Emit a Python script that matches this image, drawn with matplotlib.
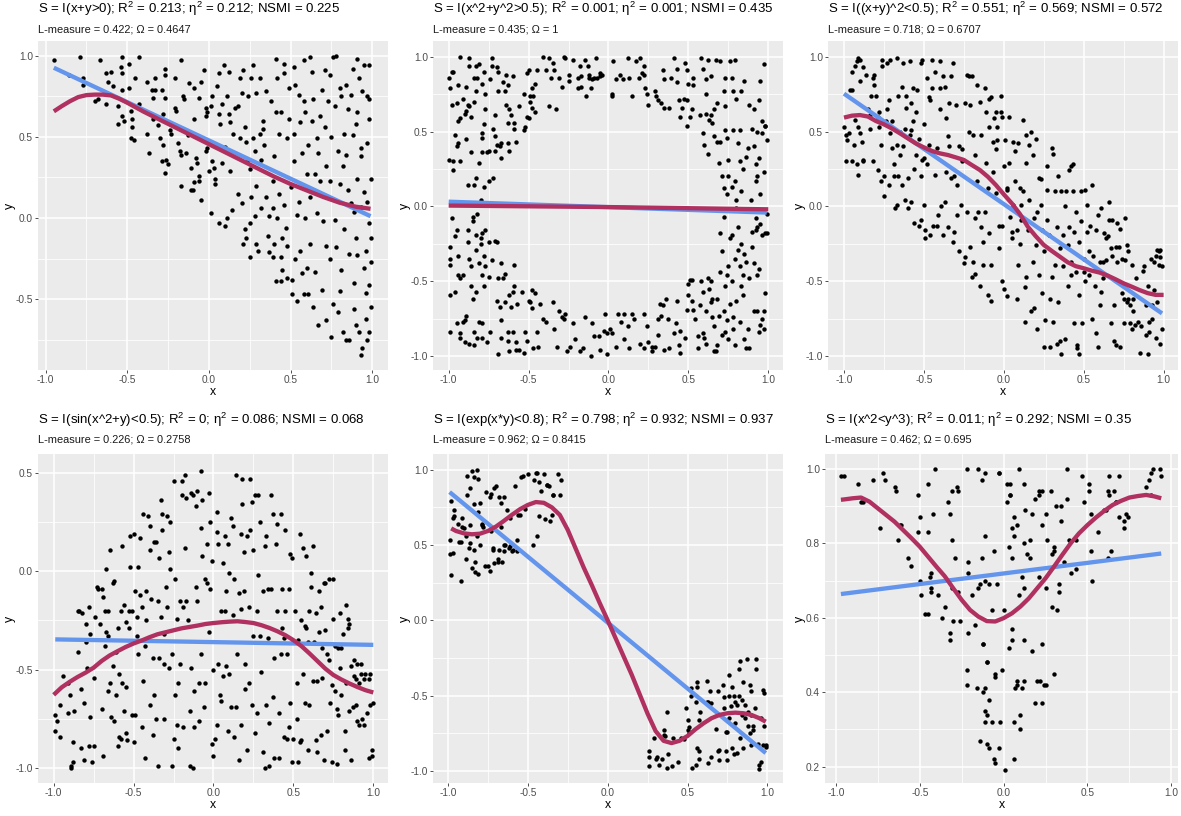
import numpy as np
import matplotlib
matplotlib.use("Agg")
import matplotlib.pyplot as plt

plt.rcParams['font.family'] = ['Liberation Sans', 'DejaVu Sans']
plt.rcParams['mathtext.fontset'] = 'custom'
plt.rcParams['mathtext.rm'] = 'Liberation Sans'
plt.rcParams['mathtext.it'] = 'Liberation Sans:italic'
plt.rcParams['axes.unicode_minus'] = False

# ---------------- data ----------------
titles = [
    "S = I(x+y>0); R$^2$ = 0.213; η$^2$ = 0.212; NSMI = 0.225",
    "S = I(x^2+y^2>0.5); R$^2$ = 0.001; η$^2$ = 0.001; NSMI = 0.435",
    "S = I((x+y)^2<0.5); R$^2$ = 0.551; η$^2$ = 0.569; NSMI = 0.572",
    "S = I(sin(x^2+y)<0.5); R$^2$ = 0; η$^2$ = 0.086; NSMI = 0.068",
    "S = I(exp(x*y)<0.8); R$^2$ = 0.798; η$^2$ = 0.932; NSMI = 0.937",
    "S = I(x^2<y^3); R$^2$ = 0.011; η$^2$ = 0.292; NSMI = 0.35",
]
subtitles = [
    "L-measure = 0.422; Ω = 0.4647",
    "L-measure = 0.435; Ω = 1",
    "L-measure = 0.718; Ω = 0.6707",
    "L-measure = 0.226; Ω = 0.2758",
    "L-measure = 0.962; Ω = 0.8415",
    "L-measure = 0.462; Ω = 0.695",
]

p1_points = [(-0.95,0.97),(-0.79,0.99),(-0.67,0.97),(-0.86,0.88),(-0.77,0.86),(-0.77,0.82),(-0.70,0.72),(-0.68,0.73),(-0.63,0.70),(-0.63,0.89),(-0.60,0.90),(-0.62,0.84),(-0.59,0.81),(-0.53,0.99),(-0.54,0.93),(-0.53,0.89),(-0.53,0.79),(-0.56,0.69),(-0.56,0.58),(-0.53,0.63),(-0.52,0.60),(-0.49,0.95),(-0.49,0.80),(-0.48,0.66),(-0.47,0.61),(-0.48,0.49),(-0.46,0.48),(-0.47,0.56),(-0.45,0.86),(-0.43,0.99),(-0.43,0.70),(-0.38,0.84),(-0.38,0.52),(-0.37,0.40),(-0.35,0.79),(-0.34,0.74),(-0.33,0.86),(-0.33,0.79),(-0.31,0.57),(-0.30,0.49),(-0.34,0.61),(-0.29,0.35),(-0.29,0.79),(-0.28,0.64),(-0.28,0.45),(-0.27,0.92),(-0.27,0.88),(-0.27,0.74),(-0.27,0.28),(-0.26,0.36),(-0.24,0.54),(-0.25,0.33),(-0.23,0.52),(-0.21,0.86),(-0.21,0.68),(-0.20,0.66),(-0.19,0.46),(-0.18,0.41),(-0.17,0.39),(-0.17,0.97),(-0.17,0.20),(-0.16,0.75),(-0.15,0.73),(-0.14,0.40),(-0.13,0.51),(-0.12,0.83),(-0.11,0.31),(-0.11,0.17),(-0.10,0.17),(-0.09,0.80),(-0.09,0.61),(-0.09,0.22),(-0.08,0.37),(-0.07,0.34),(-0.06,0.74),(-0.06,0.26),(-0.06,0.23),(-0.05,0.84),(-0.05,0.11),(-0.03,0.91),(-0.02,0.63),(-0.02,0.68),(-0.02,0.41),(-0.01,0.65),(-0.01,0.43),(0.00,0.29),(0.01,0.03),(0.01,0.69),(0.02,0.75),(0.02,0.35),(0.03,0.31),(0.04,0.21),(0.04,0.24),(0.05,0.81),(0.06,-0.03),(0.06,0.89),(0.06,0.64),(0.07,0.58),(0.08,0.34),(0.08,0.70),(0.09,0.94),(0.10,-0.05),(0.10,0.44),(0.11,0.75),(0.11,0.00),(0.12,0.90),(0.12,0.64),(0.13,0.59),(0.13,0.29),(0.14,0.05),(0.15,0.52),(0.16,0.68),(0.18,0.69),(0.18,0.15),(0.19,0.49),(0.19,0.86),(0.20,0.77),(0.20,0.09),(0.21,-0.16),(0.21,0.91),(0.22,0.56),(0.22,-0.07),(0.23,-0.12),(0.23,0.47),(0.24,0.36),(0.24,0.75),(0.25,0.30),(0.25,-0.24),(0.25,-0.03),(0.26,0.86),(0.26,0.13),(0.27,0.49),(0.27,0.94),(0.28,0.41),(0.28,0.01),(0.29,0.77),(0.29,0.20),(0.29,-0.16),(0.30,-0.20),(0.31,0.52),(0.31,0.86),(0.32,0.06),(0.32,0.36),(0.33,0.55),(0.33,0.60),(0.34,0.45),(0.35,0.13),(0.35,0.78),(0.36,-0.11),(0.37,0.01),(0.37,-0.21),(0.38,0.72),(0.39,-0.24),(0.39,0.23),(0.39,0.06),(0.40,0.38),(0.40,-0.16),(0.41,0.98),(0.41,0.65),(0.41,-0.39),(0.42,0.86),(0.42,0.00),(0.43,0.52),(0.43,0.15),(0.44,-0.24),(0.44,0.65),(0.44,-0.39),(0.45,-0.32),(0.45,-0.12),(0.46,0.95),(0.46,0.89),(0.46,0.08),(0.47,-0.06),(0.48,-0.37),(0.48,-0.17),(0.48,0.49),(0.49,0.80),(0.49,0.61),(0.50,0.19),(0.51,-0.38),(0.51,-0.47),(0.52,0.35),(0.52,0.93),(0.52,0.52),(0.53,0.82),(0.53,-0.25),(0.54,-0.51),(0.54,0.02),(0.55,0.76),(0.55,0.10),(0.56,-0.20),(0.56,0.59),(0.57,0.40),(0.57,-0.34),(0.58,0.97),(0.58,0.72),(0.58,-0.47),(0.59,0.00),(0.59,0.65),(0.60,0.27),(0.60,-0.31),(0.61,0.45),(0.61,-0.47),(0.62,0.99),(0.62,-0.16),(0.62,0.13),(0.63,0.60),(0.63,0.90),(0.64,0.73),(0.64,-0.55),(0.65,-0.33),(0.65,0.27),(0.66,0.49),(0.66,0.03),(0.67,0.40),(0.67,-0.66),(0.68,0.23),(0.68,0.63),(0.69,-0.44),(0.69,0.79),(0.70,-0.02),(0.71,0.56),(0.71,0.91),(0.72,-0.17),(0.72,0.32),(0.72,-0.63),(0.73,0.72),(0.74,0.23),(0.74,0.88),(0.74,-0.25),(0.75,0.50),(0.75,-0.73),(0.76,0.99),(0.76,-0.53),(0.77,-0.01),(0.77,0.69),(0.78,1.00),(0.78,-0.18),(0.79,0.41),(0.79,-0.58),(0.80,0.80),(0.80,0.21),(0.80,-0.45),(0.81,-0.32),(0.81,0.75),(0.82,0.32),(0.82,-0.70),(0.83,0.52),(0.83,-0.07),(0.84,-0.75),(0.84,0.39),(0.84,0.82),(0.85,0.17),(0.85,0.67),(0.86,-0.22),(0.86,-0.75),(0.87,0.76),(0.87,0.09),(0.88,0.51),(0.88,0.92),(0.89,-0.40),(0.89,-0.56),(0.89,0.04),(0.90,0.58),(0.90,-0.12),(0.90,-0.66),(0.91,0.98),(0.91,0.24),(0.91,0.65),(0.91,-0.23),(0.92,-0.70),(0.92,0.86),(0.93,0.38),(0.93,-0.84),(0.93,0.43),(0.93,0.07),(0.94,0.78),(0.94,-0.80),(0.95,0.94),(0.95,-0.31),(0.95,0.16),(0.96,-0.62),(0.96,-0.46),(0.96,-0.20),(0.97,0.10),(0.97,0.75),(0.97,-0.75),(0.97,0.46),(0.98,-0.03),(0.98,-0.41),(0.98,-0.70),(0.98,0.61),(0.98,0.94),(0.99,0.24),(0.99,-0.12),(0.99,-0.27),(0.99,-0.55),(0.98,0.73)]

p2_points = [(-1.00,0.86),(-0.98,0.90),(-0.97,0.90),(-0.99,0.79),(-0.98,0.68),(-0.95,0.69),(-0.93,1.00),(-0.94,0.81),(-0.94,0.57),(-0.93,0.59),(-0.96,0.48),(-0.95,0.40),(-0.94,0.42),(-0.97,0.30),(-1.00,0.31),(-0.93,0.30),(-0.97,0.24),(-0.91,0.72),(-0.90,0.62),(-0.89,0.64),(-0.89,0.80),(-0.88,0.68),(-0.89,0.45),(-0.88,0.14),(-0.87,0.99),(-0.87,0.94),(-0.87,0.67),(-0.86,0.60),(-0.86,0.36),(-0.84,0.14),(-0.84,0.86),(-0.84,0.70),(-0.83,0.77),(-0.83,0.94),(-0.83,0.19),(-0.82,0.86),(-0.81,0.95),(-0.81,0.29),(-0.79,0.36),(-0.79,0.82),(-0.79,0.49),(-0.79,0.46),(-0.78,0.55),(-0.78,0.13),(-0.78,0.90),(-0.77,0.75),(-0.77,0.65),(-0.76,0.36),(-0.75,0.17),(-0.75,0.37),(-0.74,0.85),(-0.73,0.99),(-0.73,0.94),(-0.72,0.19),(-0.72,0.52),(-0.71,0.47),(-0.71,0.37),(-0.71,0.61),(-0.70,0.41),(-0.70,0.93),(-0.69,0.77),(-0.69,0.90),(-0.68,0.40),(-0.67,0.42),(-0.67,0.32),(-0.66,0.83),(-0.65,0.77),(-0.64,0.68),(-0.64,0.88),(-0.63,0.81),(-0.63,0.56),(-0.63,0.42),(-0.62,0.37),(-0.62,0.65),(-0.61,0.61),(-0.60,0.87),(-0.59,0.56),(-0.59,0.52),(-0.58,0.43),(-0.56,0.67),(-0.53,0.75),(-0.53,0.51),(-0.52,0.53),(-0.51,0.60),(-0.51,0.89),(-0.50,0.91),(-0.50,0.59),(-0.49,0.70),(-0.49,0.74),(-0.48,0.79),(-0.48,0.66),(-0.47,0.74),(-0.46,0.82),(-0.46,0.63),(-0.45,0.91),
 (-0.41,1.00),(-0.37,0.99),(-0.39,0.91),(-0.37,0.67),(-0.36,0.86),(-0.35,0.96),(-0.34,0.91),(-0.33,0.65),(-0.31,0.86),(-0.29,0.80),(-0.28,1.00),(-0.27,0.99),(-0.25,0.88),(-0.25,0.84),(-0.22,0.98),(-0.19,0.79),(-0.19,0.86),(-0.18,0.94),(-0.17,0.87),(-0.17,0.80),(-0.15,0.98),(-0.14,0.74),(-0.13,0.94),(-0.12,0.88),(-0.12,0.86),(-0.11,0.79),(-0.10,0.85),(-0.09,0.86),(-0.08,0.99),(-0.07,0.86),(-0.05,0.89),(-0.05,0.87),(-0.04,0.88),(0.02,0.75),(0.02,0.74),(0.03,0.97),(0.05,0.85),(0.07,0.88),(0.09,0.85),(0.12,0.99),(0.13,0.86),(0.15,0.74),(0.17,0.97),(0.19,0.86),(0.20,0.99),(0.21,0.89),(0.22,0.94),(0.22,0.88),(0.23,0.79),(0.24,0.75),(0.25,0.68),(0.29,0.77),(0.30,0.74),(0.31,0.71),(0.33,0.69),(0.34,0.91),(0.35,0.85),(0.35,0.66),(0.38,0.66),(0.39,0.86),(0.41,0.99),(0.43,0.92),(0.43,0.83),(0.44,0.71),(0.45,0.60),(0.46,0.66),(0.47,0.72),(0.48,0.96),(0.49,0.91),(0.49,0.71),(0.49,0.54),(0.50,0.82),(0.51,0.60),(0.52,0.65),(0.53,0.81),(0.53,0.86),
 (0.57,0.61),(0.58,0.99),(0.59,0.49),(0.59,0.92),(0.60,0.41),(0.61,0.75),(0.61,0.85),(0.61,0.62),(0.62,0.35),(0.62,0.98),(0.63,0.58),(0.64,0.87),(0.64,0.61),(0.65,0.56),(0.66,0.47),(0.66,0.65),(0.67,0.98),(0.68,0.43),(0.68,0.69),(0.69,0.29),(0.70,0.43),(0.70,0.97),(0.71,0.20),(0.72,0.77),(0.72,0.12),(0.73,0.86),(0.73,0.51),(0.73,0.67),(0.74,0.46),(0.74,0.08),(0.75,0.31),(0.75,0.20),(0.76,0.97),(0.77,0.13),(0.77,0.86),(0.78,0.51),(0.78,0.77),(0.79,0.17),(0.79,0.98),(0.80,0.04),(0.80,0.72),(0.81,0.42),(0.82,0.51),(0.82,0.30),(0.83,0.10),(0.83,0.77),(0.84,0.25),(0.85,0.84),(0.86,0.33),(0.87,0.39),(0.88,0.68),(0.89,0.04),(0.90,0.52),(0.91,0.65),(0.91,0.40),(0.92,0.17),(0.92,0.28),(0.93,0.50),(0.93,0.20),(0.94,0.71),(0.94,0.32),(0.95,0.84),(0.95,0.08),(0.96,0.57),(0.96,0.49),(0.97,0.95),(0.97,0.23),(0.98,0.54),(0.98,0.54),(0.99,0.44),
 (-0.99,-0.27),(-0.99,-0.35),(-0.99,-0.39),(-0.99,-0.59),(-0.99,-0.84),(-0.98,-0.08),(-0.96,-0.57),(-0.96,-0.20),(-0.95,-0.16),(-0.95,-0.78),(-0.94,-0.46),(-0.94,-0.33),(-0.93,-0.48),(-0.93,-0.88),(-0.93,-0.85),(-0.91,-0.77),(-0.91,-0.46),(-0.90,-0.76),(-0.90,-0.91),(-0.89,-0.73),(-0.88,-0.16),(-0.88,-0.24),(-0.87,-0.35),(-0.87,-0.92),(-0.86,-0.53),(-0.86,-0.40),(-0.85,-0.10),(-0.85,-0.62),(-0.85,-0.07),(-0.84,-0.84),(-0.84,-0.93),(-0.83,-0.29),(-0.83,-0.57),(-0.83,-0.19),(-0.82,-0.88),(-0.82,-0.05),(-0.81,-0.77),(-0.81,-0.38),(-0.80,-0.21),(-0.80,-0.25),(-0.80,0.04),(-0.79,-0.18),(-0.79,-0.78),(-0.79,-0.46),(-0.79,-0.88),(-0.78,-0.33),(-0.78,-0.53),(-0.77,-0.16),(-0.77,-0.40),(-0.76,-0.91),(-0.75,-0.47),(-0.75,-0.24),(-0.74,-0.84),(-0.73,-0.36),(-0.71,-0.23),(-0.70,-0.24),(-0.70,-0.63),(-0.69,-0.48),(-0.69,-0.99),(-0.68,-0.67),(-0.67,-0.76),(-0.67,-0.38),(-0.67,-0.88),(-0.66,-0.48),(-0.65,-0.45),(-0.65,-0.64),(-0.63,-0.84),(-0.63,-0.90),(-0.62,-0.97),(-0.62,-0.59),(-0.61,-0.67),(-0.60,-0.84),(-0.60,-0.57),(-0.59,-0.39),(-0.59,-0.53),(-0.58,-0.91),(-0.58,-0.96),(-0.57,-0.65),(-0.56,-0.96),(-0.54,-0.57),(-0.53,-0.98),(-0.52,-0.84),(-0.51,-0.90),(-0.50,-0.63),(-0.49,-0.64),(-0.48,-0.56),(-0.48,-0.68),(-0.47,-0.95),(-0.46,-0.58),(-0.45,-0.84),(-0.44,-0.94),(-0.43,-0.65),(-0.41,-0.75),
 (-0.39,-0.77),(-0.35,-0.64),(-0.34,-0.82),(-0.32,-0.94),(-0.31,-0.70),(-0.29,-0.74),(-0.28,-0.75),(-0.27,-0.72),(-0.26,-0.97),(-0.24,-0.94),(-0.22,-0.78),(-0.21,-0.89),(-0.18,-0.97),(-0.16,-0.95),(-0.15,-0.74),(-0.11,-1.00),(-0.10,-0.78),(-0.09,-0.87),(-0.06,-0.87),(-0.05,-0.96),(-0.03,-0.83),(-0.02,-0.72),(-0.01,-0.99),(-0.01,-0.85),(0.01,-0.82),(0.02,-0.85),(0.05,-0.94),(0.06,-0.72),(0.08,-0.77),(0.10,-0.72),(0.10,-0.89),(0.12,-0.80),(0.13,-0.95),(0.15,-0.72),(0.16,-0.75),(0.20,-0.92),(0.22,-0.95),(0.22,-0.72),(0.24,-0.80),(0.25,-0.91),(0.27,-0.94),(0.27,-0.97),(0.29,-0.94),(0.31,-0.75),(0.31,-0.86),(0.32,-0.65),(0.33,-0.73),(0.34,-0.66),(0.35,-0.96),(0.36,-0.62),(0.37,-0.75),(0.38,-0.95),(0.41,-0.85),(0.42,-0.78),(0.43,-0.63),(0.44,-0.93),(0.45,-0.98),(0.45,-0.83),(0.48,-0.88),(0.49,-0.69),(0.50,-0.52),(0.50,-0.59),(0.51,-0.49),(0.52,-0.63),(0.52,-0.49),(0.53,-0.69),(0.54,-0.75),
 (0.56,-0.87),(0.56,-0.95),(0.57,-0.66),(0.58,-0.50),(0.59,-0.57),(0.59,-0.85),(0.60,-0.88),(0.61,-0.70),(0.61,-0.92),(0.62,-0.48),(0.63,-0.55),(0.64,-0.50),(0.64,-0.64),(0.65,-0.74),(0.65,-0.62),(0.66,-0.97),(0.66,-0.80),(0.67,-0.97),(0.68,-0.62),(0.68,-0.93),(0.69,-0.73),(0.70,-0.18),(0.70,-0.44),(0.71,-0.86),(0.71,-0.30),(0.72,-0.70),(0.72,-0.07),(0.73,-0.84),(0.73,-0.53),(0.74,-0.46),(0.74,-0.76),(0.75,-0.40),(0.75,-0.89),(0.76,-0.21),(0.76,-0.65),(0.77,-0.50),(0.77,-0.19),(0.78,-0.74),(0.78,-0.82),(0.79,-0.93),(0.79,-0.35),(0.80,-0.63),(0.80,-0.01),(0.81,-0.14),(0.81,-0.29),(0.82,-0.40),(0.82,-0.77),(0.83,-0.25),(0.83,-0.53),(0.84,-0.46),(0.84,-0.59),(0.85,-0.32),(0.85,-0.89),(0.86,-0.95),(0.86,-0.37),(0.87,-0.82),(0.88,-0.48),(0.88,-0.95),(0.90,-0.17),(0.90,-0.27),(0.91,-0.70),(0.91,-0.38),(0.92,-0.08),(0.92,-0.16),(0.93,-0.70),(0.93,-0.46),(0.93,-0.14),(0.94,-0.84),(0.94,-0.42),(0.95,-0.12),(0.95,-0.79),(0.96,-0.75),(0.96,-0.19),(0.97,-0.70),(0.97,-0.82),(0.98,-0.58),(0.98,-0.18),(0.99,-0.18),(0.99,-0.05)]

p3_points = [(-1.00,0.53),(-0.99,0.48),(-0.97,0.49),(-0.98,0.44),(-0.99,0.30),(-0.96,0.78),(-0.95,0.78),(-0.95,0.90),(-0.94,0.41),(-0.95,0.30),(-0.93,0.94),(-0.92,0.97),(-0.91,0.99),(-0.90,0.98),(-0.93,0.58),(-0.92,0.28),(-0.91,0.53),(-0.91,0.21),(-0.90,0.84),(-0.90,0.49),(-0.89,0.43),(-0.88,0.31),(-0.88,0.93),(-0.88,0.30),(-0.86,0.88),(-0.85,0.65),(-0.84,0.52),(-0.84,0.61),(-0.83,0.74),(-0.82,0.86),(-0.82,0.30),(-0.81,0.81),(-0.81,0.88),(-0.80,0.74),(-0.79,0.24),(-0.79,0.60),(-0.78,0.63),(-0.78,0.53),(-0.77,0.41),(-0.77,0.17),(-0.76,0.98),(-0.76,0.94),(-0.75,0.07),(-0.75,0.20),(-0.74,0.57),(-0.73,0.65),(-0.73,0.96),(-0.72,0.71),(-0.72,0.14),(-0.71,0.98),(-0.71,0.49),(-0.70,0.39),(-0.70,0.57),(-0.69,0.28),(-0.69,0.20),(-0.68,-0.01),(-0.67,0.01),(-0.67,0.99),(-0.67,0.41),(-0.66,0.74),(-0.66,0.20),(-0.65,0.50),(-0.65,0.34),(-0.64,0.14),(-0.64,0.80),(-0.63,0.96),(-0.63,0.40),(-0.62,0.52),(-0.62,0.04),(-0.61,0.66),(-0.61,0.74),(-0.60,0.19),(-0.60,-0.01),(-0.59,0.97),(-0.59,0.48),(-0.58,0.03),(-0.58,0.69),(-0.58,0.51),(-0.57,0.57),(-0.57,0.79),(-0.56,-0.11),(-0.56,0.25),(-0.55,0.34),(-0.55,0.63),(-0.54,0.78),(-0.53,0.45),(-0.53,-0.13),(-0.52,0.20),(-0.52,-0.09),(-0.52,0.96),(-0.51,0.31),(-0.51,0.98),(-0.50,0.32),(-0.50,0.55),(-0.50,0.01),(-0.49,-0.21),(-0.49,-0.16),(-0.48,0.28),(-0.48,0.86),(-0.47,0.41),(-0.47,0.73),(-0.46,-0.19),(-0.46,0.71),(-0.45,0.79),(-0.45,0.98),(-0.44,-0.13),(-0.43,0.21),(-0.43,0.90),(-0.42,-0.13),(-0.42,0.39),(-0.41,-0.06),(-0.40,0.79),(-0.40,0.65),(-0.40,0.97),(-0.39,0.00),(-0.38,0.87),(-0.38,-0.19),(-0.37,0.80),(-0.37,0.03),(-0.36,0.23),(-0.36,0.59),(-0.35,0.47),(-0.35,-0.14),(-0.34,0.40),(-0.34,0.69),(-0.33,0.87),(-0.33,0.19),(-0.32,0.96),(-0.32,-0.24),(-0.31,-0.17),(-0.31,0.20),(-0.30,0.68),(-0.29,-0.06),(-0.29,0.14),(-0.28,0.40),(-0.28,-0.30),(-0.27,0.01),(-0.26,0.30),(-0.26,0.38),(-0.25,-0.38),(-0.24,0.69),(-0.24,-0.34),(-0.23,-0.04),(-0.22,0.87),(-0.22,0.50),(-0.21,0.68),(-0.21,-0.27),(-0.20,-0.47),(-0.19,-0.37),(-0.19,0.48),(-0.18,-0.08),(-0.18,-0.45),(-0.18,0.34),(-0.17,0.17),(-0.17,0.81),(-0.16,-0.04),(-0.15,0.70),(-0.15,-0.53),(-0.14,-0.14),(-0.14,0.48),(-0.13,-0.39),(-0.13,-0.24),(-0.12,0.79),(-0.12,-0.04),(-0.11,0.29),(-0.11,0.63),(-0.10,0.12),(-0.10,-0.59),(-0.09,0.53),(-0.09,-0.18),(-0.08,-0.63),(-0.08,-0.39),(-0.08,0.73),(-0.07,0.43),(-0.07,0.23),(-0.06,0.59),(-0.05,0.38),(-0.05,0.09),(-0.04,0.53),(-0.04,0.44),(-0.03,-0.13),(-0.03,-0.28),(-0.02,0.63),(-0.02,0.74),(-0.01,-0.13),(-0.01,-0.50),(0.00,-0.55),(0.00,0.27),(0.01,0.44),(0.02,0.11),(0.02,-0.60),(0.02,0.12),(0.03,0.29),(0.03,0.60),(0.04,-0.07),(0.05,-0.21),(0.05,-0.17),(0.06,0.01),(0.06,0.43),(0.07,0.17),(0.07,0.37),(0.08,-0.16),(0.08,-0.62),(0.09,-0.39),(0.09,0.42),(0.10,0.12),(0.10,-0.25),(0.11,-0.09),(0.11,0.01),(0.12,0.58),(0.12,0.10),(0.13,-0.77),(0.13,-0.54),(0.14,0.29),(0.14,0.48),(0.14,-0.47),(0.15,-0.16),(0.16,0.04),(0.16,0.41),(0.17,0.50),(0.17,-0.70),(0.18,-0.37),(0.18,0.34),(0.19,-0.08),(0.19,-0.68),(0.20,-0.26),(0.20,0.45),(0.21,-0.82),(0.21,-0.04),(0.22,0.19),(0.22,-0.46),(0.23,0.18),(0.23,0.01),(0.24,-0.16),(0.24,-0.58),(0.25,-0.30),(0.25,-0.94),(0.26,-0.76),(0.27,0.11),(0.27,-0.09),(0.27,0.27),(0.28,-0.19),(0.29,-0.62),(0.29,-0.94),(0.30,-0.47),(0.30,0.39),(0.31,0.35),(0.31,-0.77),(0.32,0.10),(0.32,-0.39),(0.33,-0.92),(0.33,-0.14),(0.34,-0.64),(0.34,0.20),(0.35,-0.90),(0.35,-0.28),(0.36,0.10),(0.36,-0.99),(0.37,-0.19),(0.37,-0.40),(0.38,-0.89),(0.38,0.00),(0.39,0.10),(0.40,-0.26),(0.40,-0.53),(0.41,-0.14),(0.41,0.24),(0.42,-0.46),(0.42,-0.37),(0.43,0.10),(0.43,0.28),(0.44,-0.78),(0.44,-0.17),(0.45,-0.04),(0.45,-0.44),(0.46,-0.93),(0.46,-0.95),(0.47,-0.24),(0.47,-0.99),(0.47,-0.59),(0.48,0.10),(0.48,-0.10),(0.49,-0.78),(0.50,-0.44),(0.50,-0.35),(0.51,-0.50),(0.51,0.11),(0.52,0.01),(0.52,-0.17),(0.53,-0.46),(0.53,-0.30),(0.54,-0.13),(0.55,0.14),(0.55,-0.75),(0.56,-0.33),(0.57,-0.53),(0.58,-0.85),(0.58,-0.16),(0.59,-0.06),(0.59,-0.94),(0.60,-0.37),(0.60,-0.66),(0.61,-0.01),(0.61,-0.57),(0.62,-0.37),(0.62,-0.48),(0.63,-0.18),(0.64,-0.21),(0.64,-0.36),(0.65,-0.20),(0.66,0.03),(0.66,-0.09),(0.67,-0.78),(0.67,-0.28),(0.68,-0.09),(0.68,-0.33),(0.69,-0.90),(0.69,-0.66),(0.70,-0.27),(0.70,-0.93),(0.71,-0.37),(0.71,-0.11),(0.72,-0.27),(0.73,-0.94),(0.73,-0.15),(0.74,-0.58),(0.74,-0.35),(0.75,-0.78),(0.75,-0.62),(0.76,-0.36),(0.76,-0.08),(0.77,-0.26),(0.77,-0.64),(0.78,-0.62),(0.78,-0.30),(0.79,-0.66),(0.79,-0.78),(0.80,-0.39),(0.80,-0.82),(0.81,-0.70),(0.81,-0.62),(0.82,-0.79),(0.83,-0.48),(0.84,-0.77),(0.85,-0.98),(0.86,-0.80),(0.87,-0.43),(0.88,-0.40),(0.89,-0.86),(0.89,-0.66),(0.90,-0.53),(0.90,-0.99),(0.91,-0.77),(0.91,-0.84),(0.92,-0.35),(0.93,-0.75),(0.93,-0.66),(0.94,-0.56),(0.94,-0.37),(0.95,-0.33),(0.95,-0.88),(0.96,-0.29),(0.96,-0.64),(0.97,-0.39),(0.97,-0.30),(0.98,-0.92),(0.98,-0.34),(0.98,-0.29),(0.99,-0.82),(0.99,-0.40),(-0.23,0.88),(-0.20,0.87),(-0.09,0.72),(-0.05,0.63),(-0.01,0.60),(0.42,0.27)]

p4_points = [(-0.99,-0.81),(-0.99,-0.73),(-0.98,-0.76),(-0.96,-0.84),(-0.96,-0.68),(-0.94,-0.53),(-0.91,-0.57),(-0.91,-0.72),(-0.90,-0.63),(-0.89,-0.99),(-0.89,-1.00),(-0.88,-0.97),(-0.88,-0.87),(-0.87,-0.71),(-0.85,-0.20),(-0.85,-0.41),(-0.84,-0.20),(-0.83,-0.60),(-0.83,-0.90),(-0.82,-0.21),(-0.81,-0.67),(-0.81,-0.96),(-0.80,-0.27),(-0.80,-0.36),(-0.79,-0.49),(-0.78,-0.89),(-0.78,-0.18),(-0.77,-0.74),(-0.77,-0.32),(-0.76,-0.97),(-0.75,-0.89),(-0.75,-0.54),(-0.74,-0.23),(-0.73,-0.08),(-0.72,-0.09),(-0.71,-0.27),(-0.70,-0.09),(-0.70,-0.70),(-0.69,-0.94),(-0.69,-0.13),(-0.68,-0.20),(-0.68,-0.38),(-0.67,0.01),(-0.67,-0.31),(-0.66,-0.20),(-0.66,-0.61),(-0.66,-0.33),(-0.65,-0.57),(-0.65,0.11),(-0.64,-0.74),(-0.63,-0.48),(-0.63,-0.06),(-0.62,-0.76),(-0.62,-0.05),(-0.61,-0.41),(-0.61,-0.63),(-0.60,-0.29),(-0.60,-0.89),(-0.59,-0.52),(-0.59,-0.84),(-0.58,-0.20),(-0.58,-0.85),(-0.57,0.13),(-0.57,-0.57),(-0.56,-0.71),(-0.56,-0.17),(-0.55,-0.82),(-0.55,-0.26),(-0.55,-0.59),(-0.54,-0.86),(-0.53,-0.29),(-0.53,-0.20),(-0.52,0.02),(-0.52,0.18),(-0.51,-0.73),(-0.51,-0.20),(-0.50,0.19),(-0.50,-0.87),(-0.49,-0.73),(-0.49,-0.10),(-0.48,-0.23),(-0.48,-0.33),(-0.47,0.02),(-0.47,-0.42),(-0.46,0.17),(-0.46,-0.12),(-0.45,-0.79),(-0.45,-0.18),(-0.44,0.29),(-0.44,-0.56),(-0.43,-0.38),(-0.43,-0.95),(-0.42,-0.10),(-0.42,-0.25),(-0.41,0.28),(-0.40,-0.68),(-0.40,0.11),(-0.40,0.23),(-0.39,-0.14),(-0.38,-0.44),(-0.38,-0.83),(-0.37,0.15),(-0.37,-0.63),(-0.36,-0.75),(-0.36,0.15),(-0.35,-0.15),(-0.35,-0.99),(-0.34,0.07),(-0.34,-0.44),(-0.33,0.36),(-0.33,-0.23),(-0.32,0.21),(-0.32,0.29),(-0.31,-0.32),(-0.31,-0.75),(-0.31,-0.47),(-0.30,-0.08),(-0.29,0.28),(-0.29,-0.18),(-0.28,0.10),(-0.28,-0.49),(-0.27,0.25),(-0.27,0.01),(-0.26,-0.42),(-0.26,-0.99),(-0.25,0.46),(-0.25,-0.85),(-0.24,-0.04),(-0.24,-0.63),(-0.23,-0.24),(-0.23,-0.78),(-0.22,-0.57),(-0.22,-0.90),(-0.21,-0.15),(-0.21,-0.47),(-0.20,0.39),(-0.20,0.46),(-0.19,-0.18),(-0.19,-0.79),(-0.18,0.49),(-0.18,0.12),(-0.17,-0.15),(-0.17,0.37),(-0.16,-0.25),(-0.15,-0.71),(-0.15,-0.99),(-0.14,0.40),(-0.14,-0.49),(-0.13,-1.00),(-0.13,0.39),(-0.12,-0.61),(-0.12,-0.79),(-0.11,0.33),(-0.11,-0.08),(-0.10,-0.15),(-0.10,0.41),(-0.09,-0.76),(-0.09,-0.57),(-0.08,0.22),(-0.08,0.51),(-0.08,-0.42),(-0.07,0.36),(-0.07,0.08),(-0.06,-0.69),(-0.05,-0.04),(-0.05,-0.57),(-0.04,0.14),(-0.04,-0.06),(-0.03,0.40),(-0.03,-0.31),(-0.02,-0.09),(-0.02,0.25),(-0.01,0.05),(-0.01,-0.88),(0.00,-0.94),(0.00,-0.50),(0.01,-0.85),(0.02,0.20),(0.02,0.30),(0.02,-0.78),(0.03,-0.47),(0.03,0.14),(0.04,-0.63),(0.05,-0.20),(0.05,-0.66),(0.06,0.04),(0.06,-0.53),(0.07,-0.20),(0.07,0.18),(0.08,-0.48),(0.08,-0.10),(0.09,-0.81),(0.09,0.14),(0.10,-0.01),(0.10,-0.52),(0.11,0.27),(0.11,-0.69),(0.12,0.23),(0.12,-0.22),(0.13,-0.84),(0.13,-0.04),(0.14,-0.69),(0.14,0.49),(0.15,-0.42),(0.16,-0.11),(0.16,-0.96),(0.17,-0.19),(0.17,0.19),(0.17,-0.78),(0.18,0.47),(0.18,0.34),(0.19,0.10),(0.19,-0.10),(0.20,-0.60),(0.20,-0.47),(0.21,0.18),(0.21,-0.91),(0.22,-0.57),(0.22,-0.18),(0.23,0.21),(0.23,0.47),(0.24,0.35),(0.24,-0.68),(0.25,-0.33),(0.25,0.11),(0.26,0.39),(0.26,-0.82),(0.27,-0.72),(0.27,-0.20),(0.28,-0.02),(0.28,0.39),(0.29,0.25),(0.29,-0.33),(0.30,-0.51),(0.31,-0.10),(0.31,-0.92),(0.32,-1.00),(0.32,0.13),(0.33,-0.68),(0.33,0.18),(0.34,-0.34),(0.34,-0.09),(0.35,-0.99),(0.35,-0.77),(0.36,0.39),(0.36,-0.09),(0.37,-0.64),(0.37,0.29),(0.38,-0.95),(0.38,-0.44),(0.39,0.14),(0.40,-0.20),(0.40,0.24),(0.41,-0.72),(0.41,-0.95),(0.42,-0.42),(0.42,0.29),(0.43,-0.09),(0.43,-0.29),(0.44,-0.84),(0.44,-0.34),(0.45,0.21),(0.45,-0.20),(0.46,-0.85),(0.46,-0.42),(0.47,-0.09),(0.47,-0.79),(0.48,0.09),(0.48,-0.67),(0.49,-0.97),(0.49,0.07),(0.50,-0.85),(0.50,-0.36),(0.51,-0.20),(0.52,-0.75),(0.52,-0.57),(0.53,-0.97),(0.53,-0.35),(0.54,-0.87),(0.54,0.19),(0.55,-0.25),(0.55,-0.86),(0.56,0.12),(0.56,-0.52),(0.57,-0.28),(0.57,-0.67),(0.58,0.08),(0.58,-0.29),(0.59,-0.36),(0.59,-0.91),(0.60,-0.20),(0.60,-0.68),(0.61,-0.01),(0.61,-0.08),(0.62,-0.56),(0.62,0.13),(0.63,-0.36),(0.64,-0.21),(0.64,-0.86),(0.65,-0.92),(0.65,-0.56),(0.66,-0.10),(0.66,-0.31),(0.67,-0.18),(0.67,-0.83),(0.68,-0.39),(0.68,-0.54),(0.69,-0.06),(0.69,-0.96),(0.70,-0.06),(0.70,-0.30),(0.71,-0.42),(0.71,-0.81),(0.72,-0.45),(0.72,-0.04),(0.73,-0.67),(0.74,-0.97),(0.74,-0.58),(0.75,-0.04),(0.75,-0.24),(0.76,-0.61),(0.76,-0.38),(0.77,-0.98),(0.77,-0.70),(0.78,-0.39),(0.78,-0.73),(0.79,-0.21),(0.79,-0.49),(0.80,-0.39),(0.80,-0.63),(0.81,-0.32),(0.82,-0.81),(0.82,-0.91),(0.83,-0.57),(0.83,-0.17),(0.84,-0.29),(0.84,-0.24),(0.85,-0.27),(0.85,-0.71),(0.86,-0.48),(0.86,-0.96),(0.87,-0.69),(0.88,-0.53),(0.88,-0.45),(0.89,-0.68),(0.89,-0.55),(0.90,-0.76),(0.90,-0.47),(0.91,-0.78),(0.91,-0.57),(0.92,-0.47),(0.92,-0.52),(0.93,-0.75),(0.94,-0.55),(0.94,-0.78),(0.95,-0.52),(0.96,-0.72),(0.97,-0.55),(0.97,-0.95),(0.98,-0.68),(0.98,-0.52),(0.99,-0.94),(0.99,-0.91),(1.00,-0.67)]

p5_points = [(-0.99,0.53),(-0.99,0.44),(-0.98,0.79),(-0.97,0.45),(-0.98,0.30),(-0.97,0.68),(-0.96,0.69),(-0.96,0.73),(-0.94,0.64),(-0.93,0.52),(-0.92,0.26),(-0.92,0.52),(-0.91,0.68),(-0.91,0.62),(-0.90,0.61),(-0.89,0.56),(-0.89,0.41),(-0.88,0.83),(-0.88,0.96),(-0.87,0.48),(-0.86,0.88),(-0.86,0.63),(-0.86,0.51),(-0.85,0.35),(-0.85,0.99),(-0.84,0.77),(-0.84,0.47),(-0.84,0.95),(-0.83,0.39),(-0.83,0.32),(-0.82,1.00),(-0.82,0.56),(-0.81,0.31),(-0.81,0.94),(-0.81,0.72),(-0.80,0.50),(-0.80,0.78),(-0.79,0.64),(-0.79,0.63),(-0.78,0.62),(-0.77,0.36),(-0.76,0.85),(-0.75,0.36),(-0.74,0.82),(-0.74,0.33),(-0.73,0.84),(-0.73,0.59),(-0.72,0.47),(-0.72,0.48),(-0.71,0.38),(-0.71,0.88),(-0.70,0.89),(-0.69,0.39),(-0.69,0.41),(-0.68,0.47),(-0.68,0.82),(-0.67,0.78),(-0.67,0.62),(-0.66,0.39),(-0.65,0.46),(-0.65,0.82),(-0.65,0.50),(-0.64,0.50),(-0.63,0.73),(-0.62,0.48),(-0.61,0.68),(-0.60,0.46),(-0.59,0.47),(-0.58,0.89),(-0.57,0.53),(-0.56,0.70),(-0.55,0.70),(-0.54,0.95),(-0.53,0.96),(-0.52,0.74),(-0.50,0.97),(-0.47,0.50),(-0.46,0.93),(-0.45,0.98),(-0.44,0.98),(-0.44,0.56),(-0.43,0.92),(-0.43,0.69),(-0.42,0.86),(-0.40,0.97),(-0.39,0.67),(-0.38,0.90),(-0.38,0.90),(-0.37,0.89),(-0.36,0.66),(-0.35,0.70),(-0.34,0.83),(-0.34,0.83),(-0.31,0.97),(-0.30,0.83),(-0.29,0.93),(-0.57,0.46),(-0.61,0.49),
 (0.26,-0.87),(0.26,-0.91),(0.26,-0.97),(0.29,-0.78),(0.30,-0.92),(0.31,-0.91),(0.32,-0.96),(0.34,-0.92),(0.35,-0.73),(0.35,-0.76),(0.36,-0.77),(0.37,-0.61),(0.37,-0.98),(0.38,-0.89),(0.40,-0.97),(0.41,-0.78),(0.44,-0.94),(0.46,-0.78),(0.48,-0.79),(0.49,-0.58),(0.50,-0.73),(0.50,-0.66),(0.51,-0.71),(0.51,-0.75),(0.52,-0.45),(0.52,-0.50),(0.53,-0.98),(0.55,-0.54),(0.55,-0.96),(0.56,-0.41),(0.56,-0.44),(0.56,-0.85),(0.57,-0.92),(0.57,-0.66),(0.57,-0.87),(0.58,-0.61),(0.62,-0.54),(0.62,-0.40),(0.63,-0.95),(0.63,-0.54),(0.64,-0.47),(0.65,-0.55),(0.65,-0.91),(0.68,-0.72),(0.69,-0.47),(0.69,-0.87),(0.70,-0.86),(0.70,-0.93),(0.72,-0.43),(0.73,-0.51),(0.73,-0.58),(0.74,-0.74),(0.74,-0.87),(0.75,-0.74),(0.75,-0.93),(0.76,-0.50),(0.76,-0.65),(0.76,-0.36),(0.77,-0.57),(0.78,-0.44),(0.78,-0.85),(0.79,-0.89),(0.79,-0.50),(0.80,-0.54),(0.80,-0.68),(0.81,-0.88),(0.81,-0.56),(0.82,-0.32),(0.82,-0.50),(0.83,-0.78),(0.83,-0.27),(0.84,-0.53),(0.84,-0.63),(0.85,-0.41),(0.85,-0.85),(0.86,-0.65),(0.86,-0.56),(0.87,-0.26),(0.88,-0.70),(0.88,-0.61),(0.89,-0.43),(0.89,-0.75),(0.90,-0.63),(0.90,-0.83),(0.90,-0.47),(0.91,-0.73),(0.91,-0.70),(0.92,-0.58),(0.93,-0.32),(0.93,-0.26),(0.94,-0.82),(0.95,-0.96),(0.95,-0.99),(0.96,-0.94),(0.96,-0.65),(0.97,-0.46),(0.97,-0.83),(0.98,-0.70),(0.98,-0.48),(0.99,-0.83),(0.99,-0.84)]

p6_points = [(-0.97,0.98),(-0.95,0.98),(-0.87,0.96),(-0.85,0.91),(-0.84,0.91),(-0.78,0.97),(-0.72,0.99),(-0.71,0.97),(-0.74,0.84),(-0.65,0.95),(-0.64,0.94),(-0.63,0.81),(-0.62,0.85),(-0.61,0.85),(-0.57,0.76),(-0.55,0.74),(-0.51,0.93),(-0.51,0.83),(-0.50,0.87),(-0.50,0.70),(-0.49,0.66),(-0.47,0.61),(-0.45,0.61),(-0.45,0.96),(-0.45,0.83),(-0.44,0.71),(-0.43,0.67),(-0.43,0.68),(-0.43,0.72),(-0.42,0.88),(-0.41,1.00),(-0.39,0.66),(-0.37,0.60),(-0.35,0.63),(-0.33,0.91),(-0.32,0.54),(-0.32,0.56),(-0.32,0.88),(-0.31,0.94),(-0.31,0.81),(-0.31,0.68),(-0.30,0.59),(-0.29,0.76),(-0.27,0.67),(-0.28,0.95),(-0.27,0.94),(-0.26,0.59),(-0.22,1.00),(-0.21,0.75),(-0.21,0.72),(-0.21,0.56),(-0.22,0.46),(-0.22,0.42),(-0.19,0.66),(-0.17,0.58),(-0.16,0.41),(-0.15,1.00),(-0.15,0.68),(-0.14,0.27),(-0.14,0.69),(-0.13,0.76),(-0.13,0.97),(-0.12,0.53),(-0.12,0.53),(-0.12,0.40),(-0.11,0.82),(-0.11,0.41),(-0.11,0.70),(-0.11,0.99),(-0.11,0.35),(-0.11,0.32),(-0.10,0.34),(-0.10,0.48),(-0.10,0.48),(-0.10,0.26),(-0.09,0.38),(-0.09,0.69),(-0.09,0.25),(-0.07,0.32),(-0.07,0.62),(-0.06,0.22),(-0.06,0.78),(-0.05,0.44),(-0.05,0.45),(-0.05,0.21),(-0.04,0.69),(-0.03,0.99),(-0.03,0.99),(-0.03,0.25),(-0.02,0.32),(-0.01,0.46),(0.00,0.62),(0.01,0.19),(0.02,0.91),(0.02,0.96),(0.03,0.79),(0.03,0.52),(0.04,0.96),(0.04,0.93),(0.04,0.93),(0.05,0.84),(0.05,0.57),(0.05,0.76),(0.05,0.54),(0.06,0.22),(0.06,0.87),(0.06,0.82),(0.06,0.32),(0.07,0.41),(0.08,0.43),(0.08,0.42),(0.08,0.85),(0.09,1.00),(0.09,0.66),(0.10,0.34),(0.10,0.30),(0.11,0.41),(0.11,0.71),(0.12,0.68),(0.12,0.43),(0.12,0.80),(0.12,0.54),(0.12,0.96),(0.13,0.89),(0.14,0.77),(0.16,0.81),(0.16,0.76),(0.17,0.88),(0.17,0.51),(0.19,0.37),(0.19,0.92),(0.20,0.43),(0.21,0.94),(0.21,0.93),(0.21,0.71),(0.22,0.43),(0.23,0.37),(0.23,0.85),(0.23,0.53),(0.23,0.94),(0.24,0.42),(0.25,0.42),(0.25,0.68),(0.25,0.88),(0.26,0.81),(0.28,0.94),(0.29,0.77),(0.29,0.63),(0.30,0.79),(0.30,0.45),(0.30,0.78),(0.31,0.90),(0.32,0.62),(0.33,0.69),(0.33,0.67),(0.34,0.86),(0.34,0.90),(0.36,0.75),(0.38,0.92),(0.38,1.00),(0.39,0.81),(0.40,0.72),(0.43,0.73),(0.43,0.81),(0.47,0.98),(0.48,0.91),(0.51,0.96),(0.51,0.94),(0.52,0.88),(0.52,0.78),(0.53,0.70),(0.56,0.83),(0.60,0.89),(0.61,0.89),(0.62,0.76),(0.62,0.94),(0.63,0.93),(0.63,0.98),(0.64,0.78),(0.66,0.94),(0.67,0.91),(0.67,0.91),(0.69,0.87),(0.69,0.98),(0.72,0.84),(0.72,0.86),(0.73,0.88),(0.74,0.87),(0.85,0.95),(0.87,0.97),(0.88,0.99),(0.89,1.00),(0.93,1.00),(0.94,0.98),(0.88,0.93)]

# linear fits (intercept, slope) and smooth curves
lin_fits = [(0.478, -0.471), (-0.0055, -0.0365), (0.015, -0.738),
            (-0.360, -0.014), (-0.015, -0.875), (0.719, 0.057)]

smooth_x1 = [-0.95,-0.9,-0.85,-0.8,-0.75,-0.7,-0.65,-0.6,-0.55,-0.5,-0.4,-0.3,-0.2,-0.1,0,0.1,0.2,0.3,0.4,0.5,0.6,0.7,0.8,0.9,0.99]
smooth_y1 = [0.657,0.69,0.72,0.745,0.757,0.76,0.76,0.755,0.735,0.71,0.655,0.605,0.555,0.505,0.455,0.405,0.355,0.305,0.255,0.21,0.17,0.13,0.095,0.07,0.057]
smooth_x2 = [-1.0, 0.0, 1.0]
smooth_y2 = [0.005, -0.005, -0.02]
smooth_x3 = [-1,-0.95,-0.9,-0.85,-0.8,-0.75,-0.7,-0.65,-0.6,-0.55,-0.5,-0.45,-0.4,-0.35,-0.3,-0.25,-0.2,-0.15,-0.1,-0.05,0,0.05,0.1,0.15,0.2,0.25,0.3,0.35,0.4,0.45,0.5,0.55,0.6,0.65,0.7,0.75,0.8,0.85,0.9,0.95,1.0]
smooth_y3 = [0.593,0.606,0.61,0.60,0.57,0.548,0.52,0.488,0.454,0.42,0.394,0.37,0.354,0.343,0.327,0.31,0.276,0.243,0.198,0.143,0.08,0.02,-0.05,-0.136,-0.20,-0.258,-0.298,-0.336,-0.374,-0.40,-0.414,-0.43,-0.443,-0.463,-0.488,-0.515,-0.537,-0.56,-0.58,-0.592,-0.592]
smooth_x4 = smooth_x3
smooth_y4 = [-0.628,-0.59,-0.562,-0.537,-0.515,-0.49,-0.456,-0.428,-0.406,-0.385,-0.367,-0.352,-0.335,-0.32,-0.31,-0.30,-0.29,-0.283,-0.276,-0.268,-0.263,-0.259,-0.256,-0.254,-0.258,-0.263,-0.274,-0.288,-0.305,-0.325,-0.35,-0.38,-0.417,-0.456,-0.495,-0.527,-0.55,-0.57,-0.588,-0.604,-0.616]
smooth_x5 = [-0.98,-0.95,-0.9,-0.85,-0.8,-0.75,-0.7,-0.65,-0.6,-0.55,-0.5,-0.45,-0.4,-0.35,-0.3,-0.25,-0.2,-0.15,-0.1,-0.05,0,0.05,0.1,0.15,0.2,0.25,0.3,0.35,0.4,0.45,0.5,0.55,0.6,0.65,0.7,0.75,0.8,0.85,0.9,0.95,0.99]
smooth_y5 = [0.61,0.593,0.577,0.571,0.575,0.593,0.622,0.66,0.70,0.737,0.766,0.785,0.78,0.75,0.70,0.60,0.475,0.35,0.235,0.115,0.0,-0.12,-0.24,-0.36,-0.49,-0.62,-0.735,-0.80,-0.815,-0.80,-0.768,-0.723,-0.684,-0.65,-0.628,-0.617,-0.613,-0.617,-0.628,-0.65,-0.673]
smooth_x6 = [-0.97,-0.95,-0.9,-0.85,-0.8,-0.75,-0.7,-0.65,-0.6,-0.55,-0.5,-0.45,-0.4,-0.35,-0.3,-0.25,-0.2,-0.15,-0.1,-0.05,0,0.05,0.1,0.15,0.2,0.25,0.3,0.35,0.4,0.45,0.5,0.55,0.6,0.65,0.7,0.75,0.8,0.85,0.9,0.94]
smooth_y6 = [0.917,0.918,0.921,0.923,0.912,0.894,0.876,0.858,0.836,0.814,0.791,0.764,0.737,0.711,0.679,0.648,0.621,0.603,0.591,0.59,0.599,0.612,0.63,0.652,0.679,0.706,0.737,0.769,0.80,0.827,0.849,0.869,0.887,0.903,0.914,0.923,0.927,0.93,0.926,0.921]

x_ticks = [-1.0, -0.5, 0.0, 0.5, 1.0]
y_ticks = [[-0.5, 0.0, 0.5, 1.0], [-1.0, -0.5, 0.0, 0.5, 1.0], [-1.0, -0.5, 0.0, 0.5, 1.0],
           [-1.0, -0.5, 0.0, 0.5], [-1.0, -0.5, 0.0, 0.5, 1.0], [0.2, 0.4, 0.6, 0.8, 1.0]]

# ---------------- layout ----------------
W, H = 1181, 816
fig = plt.figure(figsize=(W / 100, H / 100), dpi=100)

# panel rectangles in pixels: left, top, right, bottom
rects = [(38, 41, 388, 370), (433, 41, 783, 370), (828, 41, 1178, 370),
         (38, 454, 388, 783), (433, 454, 783, 783), (825, 454, 1178, 783)]
xlims = [(-1.047, 1.097), (-1.098, 1.092), (-1.1, 1.09),
         (-1.098, 1.092), (-1.094, 1.098), (-1.065, 1.04)]
ylims = [(-0.935, 1.09), (-1.094, 1.105), (-1.094, 1.105),
         (-1.076, 0.596), (-1.08, 1.104), (0.156, 1.04)]
title_y = [9, 9, 9, 420, 420, 420]

points = [p1_points, p2_points, p3_points, p4_points, p5_points, p6_points]
smooths = [(smooth_x1, smooth_y1), (smooth_x2, smooth_y2), (smooth_x3, smooth_y3),
           (smooth_x4, smooth_y4), (smooth_x5, smooth_y5), (smooth_x6, smooth_y6)]

BLUE = '#6495ED'
RED = '#B03060'

for i in range(6):
    l, t, r, b = rects[i]
    ax = fig.add_axes([l / W, 1 - b / H, (r - l) / W, (b - t) / H])
    ax.set_facecolor('#EBEBEB')
    for s in ax.spines.values():
        s.set_visible(False)

    pts = np.array(points[i])
    ax.scatter(pts[:, 0], pts[:, 1], s=10, color='black', linewidths=0, zorder=2)

    a, bslope = lin_fits[i]
    xr = np.array([pts[:, 0].min(), pts[:, 0].max()])
    ax.plot(xr, a + bslope * xr, color=BLUE, lw=3.1, solid_capstyle='butt', zorder=3)
    sx, sy = smooths[i]
    ax.plot(sx, sy, color=RED, lw=3.1, solid_capstyle='butt',
            solid_joinstyle='round', zorder=4)

    ax.set_xticks(x_ticks)
    ax.set_xticklabels([f"{v:.1f}" for v in x_ticks])
    yt = y_ticks[i]
    ax.set_yticks(yt)
    ax.set_yticklabels([f"{v:.1f}" for v in yt])
    # minor gridlines midway between majors
    xs = np.array(x_ticks)
    xm = (xs[:-1] + xs[1:]) / 2
    ys = np.array(yt)
    dy = ys[1] - ys[0]
    ym = np.concatenate([[ys[0] - dy / 2], (ys[:-1] + ys[1:]) / 2, [ys[-1] + dy / 2]])
    ax.set_xticks(xm, minor=True)
    ax.set_yticks(ym, minor=True)
    # limits after ticks so that ticks do not widen the view
    ax.set_xlim(*xlims[i])
    ax.set_ylim(*ylims[i])

    ax.tick_params(which='minor', length=0)
    ax.grid(which='major', color='white', linewidth=1.1)
    ax.grid(which='minor', color='white', linewidth=0.55)
    ax.set_axisbelow(True)
    ax.tick_params(which='major', length=2.2, width=0.6, color='#333333',
                   labelsize=7.3, labelcolor='#4D4D4D', pad=1.5)

    ax.set_xlabel('x', fontsize=8.8, labelpad=0.5)
    ax.set_ylabel('y', fontsize=8.8, labelpad=0)

    fig.text(l / W, 1 - title_y[i] / H, titles[i], fontsize=9.5, ha='left', va='center')
    fig.text(l / W, 1 - (title_y[i] + 20) / H, subtitles[i], fontsize=7.9,
             ha='left', va='center', color='#1A1A1A')

fig.savefig('out.png', dpi=100, facecolor='white')
